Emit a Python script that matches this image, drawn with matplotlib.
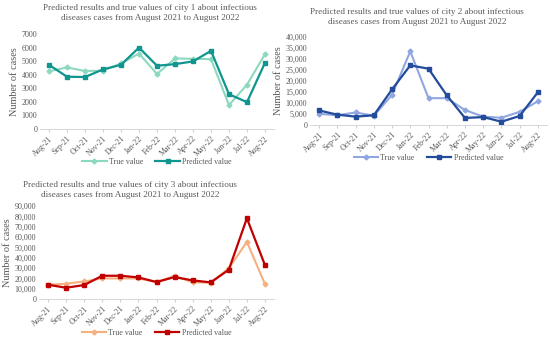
import matplotlib.pyplot as plt
from matplotlib.ticker import FuncFormatter

months = ['Aug-21', 'Sep-21', 'Oct-21', 'Nov-21', 'Dec-21', 'Jan-22', 'Feb-22',
          'Mar-22', 'Apr-22', 'May-22', 'Jun-22', 'Jul-22', 'Aug-22']

city1_true = [4250, 4540, 4270, 4300, 4830, 5560, 4050, 5200, 5170, 5150, 1760, 3270, 5510]
city1_pred = [4730, 3850, 3830, 4390, 4730, 6000, 4660, 4780, 4980, 5760, 2560, 1980, 4880]

city2_true = [5100, 4400, 5700, 4200, 13700, 33500, 12200, 12200, 6800, 3800, 3300, 6000, 10800]
city2_pred = [6600, 4700, 3800, 4400, 16200, 27100, 25600, 13500, 3200, 3600, 1500, 4100, 14900]

city3_true = [13800, 14800, 17000, 19900, 19900, 19900, 16400, 22500, 16100, 15800, 29600, 55300, 14500]
city3_pred = [13800, 10900, 13500, 22500, 22500, 20900, 16400, 21200, 18000, 16100, 28300, 78100, 32800]

plt.rcParams['font.family'] = ['Liberation Serif', 'DejaVu Serif']
txt = '#595959'

W, H = 550, 337
fig = plt.figure(figsize=(W / 100, H / 100), dpi=100)


def px_axes(left, right, top, bottom):
    return fig.add_axes([left / W, 1 - bottom / H, (right - left) / W, (bottom - top) / H])


panels = [
    # city, true, pred, colors, ylim, step, comma, axes box, title pos, legend y
    (1, city1_true, city1_pred, '#8dd9c0', '#11958f', 7000, 1000, False,
     (40, 274, 34, 129), (150, 13), 162),
    (2, city2_true, city2_pred, '#8fa6e0', '#234c9c', 40000, 5000, True,
     (310, 547, 37, 125), (417, 17), 158),
    (3, city3_true, city3_pred, '#f5b082', '#c00000', 90000, 10000, True,
     (39, 274, 206, 299), (130, 190), 333),
]

for city, tv, pv, ctrue, cpred, ymax, step, comma, box, tpos, legy in panels:
    ax = px_axes(*box)
    x = range(len(months))
    ax.plot(x, tv, color=ctrue, lw=1.5, marker='D', ms=2.5, label='True value')
    ax.plot(x, pv, color=cpred, lw=1.6, marker='s', ms=3.2, label='Predicted value')
    ax.set_xlim(-0.5, len(months) - 0.5)
    ax.set_ylim(0, ymax)
    ax.set_yticks(range(0, ymax + 1, step))
    if comma:
        ax.yaxis.set_major_formatter(FuncFormatter(lambda v, p: f'{int(v):,}' if v else '0'))
    ax.set_xticks(list(x))
    ax.set_xticklabels(months, rotation=45, ha='right', rotation_mode='anchor')
    ax.tick_params(axis='both', labelsize=5.8, colors=txt, length=0, pad=2)
    ax.tick_params(axis='x', length=2, color='#d0d0d0')
    for s in ['top', 'right', 'left']:
        ax.spines[s].set_visible(False)
    ax.spines['bottom'].set_color('#d0d0d0')
    ax.spines['bottom'].set_linewidth(0.6)
    ax.set_ylabel('Number of cases', fontsize=7.4, color=txt, labelpad=2)
    fig.text(tpos[0] / W, 1 - tpos[1] / H,
             f'Predicted results and true values of city {city} about infectious\n'
             'diseases cases from August 2021 to August 2022',
             ha='center', va='center', fontsize=6.6, color=txt, linespacing=1.35)
    cx = (box[0] + box[1]) / 2 / W
    fig.legend(handles=ax.get_lines(), loc='center', bbox_to_anchor=(cx, 1 - legy / H),
               ncol=2, frameon=False, fontsize=5.8, labelcolor=txt,
               handlelength=3, columnspacing=1.5, handletextpad=0.3)

fig.savefig('out.png', dpi=100)
